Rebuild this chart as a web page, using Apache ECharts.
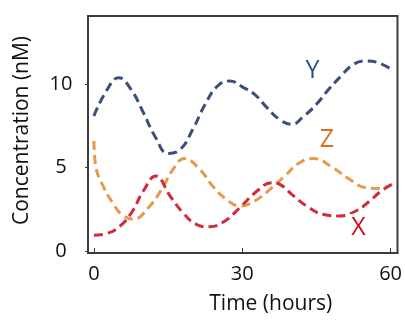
<!DOCTYPE html>
<html><head><meta charset="utf-8">
<script src="https://cdn.jsdelivr.net/npm/echarts@6/dist/echarts.min.js"></script>
<style>html,body{margin:0;padding:0;background:#fff}#c{width:405px;height:320px}</style>
</head><body><div id="c"></div>
<script>
// Time (hours) and concentrations (nM)
const yTimes  = [0, 2.5, 5, 7.5, 10, 12.5, 15, 17.5, 20, 22.5, 25, 27.5, 30, 32.5, 35, 37.5, 40, 42.5, 45, 47.5, 50, 52.5, 55, 57.5, 60.4];
const yValues = [8.1, 9.6, 10.4, 9.7, 8.3, 6.8, 5.85, 6.1, 7.3, 8.8, 9.9, 10.2, 9.85, 9.4, 8.6, 7.9, 7.6, 8.1, 8.8, 9.7, 10.5, 11.2, 11.4, 11.3, 10.85];

const zTimes  = [0, 0.3, 2, 4, 5.6, 8, 11, 13.7, 16, 18.3, 21.4, 24, 26.8, 29.5, 32.5, 36, 38.6, 41.6, 44.5, 48.3, 51.7, 55, 57.8, 60.3];
const zValues = [6.6, 5.2, 3.8, 2.8, 2.2, 1.9, 2.6, 3.7, 4.9, 5.55, 4.9, 3.9, 3.1, 2.7, 3.0, 3.8, 4.5, 5.3, 5.55, 5.0, 4.3, 3.8, 3.75, 4.0];

const xTimes  = [0, 2.6, 5.3, 7.6, 10, 12.5, 15.4, 18, 20.7, 23.4, 26.5, 29.5, 33, 36, 37.6, 40, 43, 46.3, 49.7, 53, 55.8, 58.1, 60.3];
const xValues = [0.95, 1.05, 1.5, 2.3, 3.6, 4.5, 3.3, 2.3, 1.6, 1.45, 1.8, 2.6, 3.6, 4.1, 4.0, 3.4, 2.7, 2.2, 2.1, 2.4, 3.0, 3.6, 4.0];

const xTicks = [0, 30, 60];
const yTicks = [0, 5, 10];

const seriesNames = ['Y', 'Z', 'X'];
const labelAt = {Y: [44.2, 10.8], Z: [47.1, 6.65], X: [53.5, 1.4]};

function pairs(t, v) { return t.map((x, i) => [x, v[i]]); }

const lineColors = {Y: '#3d4d7c', Z: '#e69a4a', X: '#cf2d3e'};
const textColors = {Y: '#2a5282', Z: '#d8701e', X: '#c8121f'};
const dataMap = {Y: pairs(yTimes, yValues), Z: pairs(zTimes, zValues), X: pairs(xTimes, xValues)};

const font = '"Open Sans", "Noto Sans", sans-serif';

const chart = echarts.init(document.getElementById('c'), null, {renderer: 'canvas'});
chart.setOption({
  animation: false,
  backgroundColor: '#fff',
  grid: {left: 88, top: 16, right: 7, bottom: 62, show: true, borderColor: '#3c3c3c', borderWidth: 2, backgroundColor: 'transparent'},
  xAxis: {
    type: 'value', min: -1.2, max: 61.4,
    name: 'Time (hours)', nameLocation: 'middle', nameGap: 41,
    nameTextStyle: {fontFamily: font, fontSize: 21, color: '#111', padding: [0, 0, 0, 56]},
    axisLine: {show: true, onZero: false, lineStyle: {color: '#3c3c3c', width: 2}},
    axisTick: {show: true, inside: true, length: 5, customValues: xTicks, lineStyle: {color: '#3c3c3c'}},
    axisLabel: {customValues: xTicks, margin: 11, fontFamily: font, fontSize: 20, color: '#111'},
    splitLine: {show: false}
  },
  yAxis: {
    type: 'value', min: -0.12, max: 14.1,
    name: 'Concentration (nM)', nameLocation: 'middle', nameGap: 55, nameRotate: 90,
    nameTextStyle: {fontFamily: font, fontSize: 21, color: '#111', padding: [0, 0, 0, 8]},
    axisLine: {show: true, onZero: false, lineStyle: {color: '#3c3c3c', width: 2}},
    axisTick: {show: true, inside: false, length: 3, customValues: yTicks, lineStyle: {color: '#3c3c3c'}},
    axisLabel: {customValues: yTicks, margin: 27, align: 'center', fontFamily: font, fontSize: 20, color: '#111'},
    splitLine: {show: false}
  },
  series: seriesNames.map(n => ({
    name: n, type: 'line', smooth: 0.45, showSymbol: false, symbol: 'none',
    data: dataMap[n],
    lineStyle: {color: lineColors[n], width: 3, type: [9, 5]},
    z: 2,
    markPoint: {
      symbol: 'rect', symbolSize: 0, silent: true,
      data: [{coord: labelAt[n], value: n}],
      label: {show: true, formatter: n, position: 'inside', fontFamily: font, fontSize: 25, color: textColors[n],
              backgroundColor: '#fff', padding: [2, 3, 0, 3]}
    }
  }))
});
</script></body></html>
